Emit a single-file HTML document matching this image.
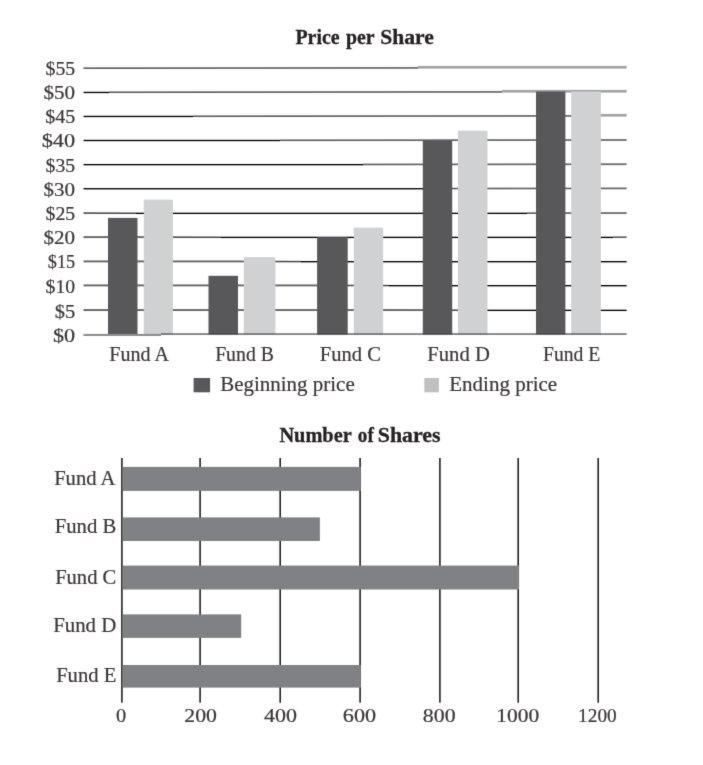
<!DOCTYPE html>
<html lang="en">
<head>
<meta charset="utf-8">
<title>Price per Share / Number of Shares</title>
<style>
html,body{margin:0;padding:0;background:#fff;}
body{width:703px;height:765px;overflow:hidden;}
svg{display:block;}
svg text{font-family:"Liberation Serif", "DejaVu Serif", serif;fill:#3a3738;stroke:#3a3738;stroke-width:0.22px;}
svg text.ttl{fill:#252223;stroke:#252223;stroke-width:0.3px;}
</style>
</head>
<body>
<svg width="703" height="765" viewBox="0 0 703 765">
<defs><filter id="soft" x="0" y="0" width="100%" height="100%" color-interpolation-filters="sRGB"><feConvolveMatrix order="3" kernelMatrix="0.0113 0.0838 0.0113 0.0838 0.6193 0.0838 0.0113 0.0838 0.0113" edgeMode="duplicate" preserveAlpha="false"/></filter></defs>
<g filter="url(#soft)">
<rect width="703" height="765" fill="#ffffff"/>
<g id="grid">
<rect x="83.50" y="67.37" width="12.50" height="1.65" fill="#606060"/>
<rect x="96.00" y="67.34" width="24.00" height="1.66" fill="#616161"/>
<rect x="120.00" y="67.31" width="24.00" height="1.68" fill="#636363"/>
<rect x="144.00" y="67.28" width="24.00" height="1.70" fill="#646464"/>
<rect x="168.00" y="67.25" width="24.00" height="1.72" fill="#666666"/>
<rect x="192.00" y="67.22" width="24.00" height="1.74" fill="#676767"/>
<rect x="216.00" y="67.19" width="24.00" height="1.75" fill="#696969"/>
<rect x="240.00" y="67.16" width="24.00" height="1.77" fill="#6b6b6b"/>
<rect x="264.00" y="67.13" width="24.00" height="1.79" fill="#6c6c6c"/>
<rect x="288.00" y="67.10" width="24.00" height="1.81" fill="#6e6e6e"/>
<rect x="312.00" y="67.07" width="24.00" height="1.83" fill="#6f6f6f"/>
<rect x="336.00" y="67.04" width="24.00" height="1.85" fill="#717171"/>
<rect x="360.00" y="67.01" width="24.00" height="1.86" fill="#727272"/>
<rect x="384.00" y="66.98" width="24.00" height="1.88" fill="#747474"/>
<rect x="408.00" y="66.96" width="10.00" height="1.90" fill="#757575"/>
<rect x="418.00" y="65.90" width="208.60" height="2.70" fill="#a3a3a3"/>
<rect x="83.50" y="91.78" width="25.50" height="1.35" fill="#000000"/>
<rect x="109.00" y="91.44" width="11.00" height="1.60" fill="#5c5c5c"/>
<rect x="120.00" y="91.42" width="24.00" height="1.62" fill="#5d5d5d"/>
<rect x="144.00" y="91.39" width="24.00" height="1.64" fill="#5f5f5f"/>
<rect x="168.00" y="91.36" width="24.00" height="1.65" fill="#606060"/>
<rect x="192.00" y="91.33" width="24.00" height="1.67" fill="#626262"/>
<rect x="216.00" y="91.30" width="24.00" height="1.69" fill="#646464"/>
<rect x="240.00" y="91.27" width="24.00" height="1.71" fill="#656565"/>
<rect x="264.00" y="91.24" width="24.00" height="1.73" fill="#676767"/>
<rect x="288.00" y="91.21" width="24.00" height="1.75" fill="#686868"/>
<rect x="312.00" y="91.18" width="24.00" height="1.76" fill="#6a6a6a"/>
<rect x="336.00" y="91.15" width="24.00" height="1.78" fill="#6b6b6b"/>
<rect x="360.00" y="91.12" width="24.00" height="1.80" fill="#6d6d6d"/>
<rect x="384.00" y="91.08" width="24.00" height="1.82" fill="#6e6e6e"/>
<rect x="408.00" y="91.05" width="24.00" height="1.84" fill="#707070"/>
<rect x="432.00" y="91.02" width="24.00" height="1.86" fill="#727272"/>
<rect x="456.00" y="90.99" width="24.00" height="1.87" fill="#737373"/>
<rect x="480.00" y="90.96" width="22.00" height="1.89" fill="#757575"/>
<rect x="502.00" y="89.90" width="124.60" height="2.70" fill="#a3a3a3"/>
<rect x="83.50" y="115.78" width="109.50" height="1.35" fill="#000000"/>
<rect x="193.00" y="115.44" width="23.00" height="1.61" fill="#5d5d5d"/>
<rect x="216.00" y="115.41" width="24.00" height="1.63" fill="#5e5e5e"/>
<rect x="240.00" y="115.37" width="24.00" height="1.65" fill="#606060"/>
<rect x="264.00" y="115.34" width="24.00" height="1.66" fill="#616161"/>
<rect x="288.00" y="115.31" width="24.00" height="1.68" fill="#636363"/>
<rect x="312.00" y="115.28" width="24.00" height="1.70" fill="#646464"/>
<rect x="336.00" y="115.25" width="24.00" height="1.72" fill="#666666"/>
<rect x="360.00" y="115.22" width="24.00" height="1.74" fill="#676767"/>
<rect x="384.00" y="115.19" width="24.00" height="1.75" fill="#696969"/>
<rect x="408.00" y="115.16" width="24.00" height="1.77" fill="#6b6b6b"/>
<rect x="432.00" y="115.13" width="24.00" height="1.79" fill="#6c6c6c"/>
<rect x="456.00" y="115.10" width="24.00" height="1.81" fill="#6e6e6e"/>
<rect x="480.00" y="115.07" width="24.00" height="1.83" fill="#6f6f6f"/>
<rect x="504.00" y="115.04" width="24.00" height="1.85" fill="#717171"/>
<rect x="528.00" y="115.01" width="24.00" height="1.86" fill="#727272"/>
<rect x="552.00" y="114.98" width="24.00" height="1.88" fill="#747474"/>
<rect x="576.00" y="114.96" width="10.00" height="1.90" fill="#757575"/>
<rect x="586.00" y="113.90" width="40.60" height="2.70" fill="#a3a3a3"/>
<rect x="83.50" y="139.82" width="196.50" height="1.35" fill="#000000"/>
<rect x="280.00" y="139.49" width="8.00" height="1.60" fill="#5c5c5c"/>
<rect x="288.00" y="139.47" width="24.00" height="1.62" fill="#5d5d5d"/>
<rect x="312.00" y="139.44" width="24.00" height="1.63" fill="#5f5f5f"/>
<rect x="336.00" y="139.41" width="24.00" height="1.65" fill="#606060"/>
<rect x="360.00" y="139.38" width="24.00" height="1.67" fill="#626262"/>
<rect x="384.00" y="139.35" width="24.00" height="1.69" fill="#636363"/>
<rect x="408.00" y="139.32" width="24.00" height="1.71" fill="#656565"/>
<rect x="432.00" y="139.29" width="24.00" height="1.73" fill="#666666"/>
<rect x="456.00" y="139.26" width="24.00" height="1.74" fill="#686868"/>
<rect x="480.00" y="139.23" width="24.00" height="1.76" fill="#6a6a6a"/>
<rect x="504.00" y="139.20" width="24.00" height="1.78" fill="#6b6b6b"/>
<rect x="528.00" y="139.17" width="24.00" height="1.80" fill="#6d6d6d"/>
<rect x="552.00" y="139.14" width="24.00" height="1.82" fill="#6e6e6e"/>
<rect x="576.00" y="139.11" width="24.00" height="1.84" fill="#707070"/>
<rect x="600.00" y="139.08" width="24.00" height="1.85" fill="#717171"/>
<rect x="624.00" y="139.06" width="2.60" height="1.86" fill="#727272"/>
<rect x="83.50" y="163.97" width="279.50" height="1.35" fill="#000000"/>
<rect x="363.00" y="163.64" width="21.00" height="1.61" fill="#5c5c5c"/>
<rect x="384.00" y="163.61" width="24.00" height="1.63" fill="#5e5e5e"/>
<rect x="408.00" y="163.58" width="24.00" height="1.64" fill="#5f5f5f"/>
<rect x="432.00" y="163.55" width="24.00" height="1.66" fill="#616161"/>
<rect x="456.00" y="163.52" width="24.00" height="1.68" fill="#636363"/>
<rect x="480.00" y="163.49" width="24.00" height="1.70" fill="#646464"/>
<rect x="504.00" y="163.46" width="24.00" height="1.72" fill="#666666"/>
<rect x="528.00" y="163.42" width="24.00" height="1.74" fill="#676767"/>
<rect x="552.00" y="163.39" width="24.00" height="1.75" fill="#696969"/>
<rect x="576.00" y="163.36" width="24.00" height="1.77" fill="#6a6a6a"/>
<rect x="600.00" y="163.33" width="24.00" height="1.79" fill="#6c6c6c"/>
<rect x="624.00" y="163.32" width="2.60" height="1.80" fill="#6d6d6d"/>
<rect x="83.50" y="188.07" width="363.50" height="1.35" fill="#000000"/>
<rect x="447.00" y="187.74" width="9.00" height="1.60" fill="#5c5c5c"/>
<rect x="456.00" y="187.72" width="24.00" height="1.62" fill="#5d5d5d"/>
<rect x="480.00" y="187.69" width="24.00" height="1.63" fill="#5f5f5f"/>
<rect x="504.00" y="187.66" width="24.00" height="1.65" fill="#606060"/>
<rect x="528.00" y="187.63" width="24.00" height="1.67" fill="#626262"/>
<rect x="552.00" y="187.60" width="24.00" height="1.69" fill="#636363"/>
<rect x="576.00" y="187.57" width="24.00" height="1.71" fill="#656565"/>
<rect x="600.00" y="187.54" width="24.00" height="1.73" fill="#676767"/>
<rect x="624.00" y="187.52" width="2.60" height="1.74" fill="#676767"/>
<rect x="83.50" y="212.25" width="12.50" height="1.73" fill="#585858"/>
<rect x="96.00" y="212.37" width="24.00" height="1.60" fill="#4e4e4e"/>
<rect x="120.00" y="212.50" width="16.00" height="1.46" fill="#424242"/>
<rect x="136.00" y="212.67" width="391.00" height="1.35" fill="#000000"/>
<rect x="527.00" y="212.35" width="1.00" height="1.60" fill="#5c5c5c"/>
<rect x="528.00" y="212.33" width="24.00" height="1.61" fill="#5d5d5d"/>
<rect x="552.00" y="212.30" width="24.00" height="1.63" fill="#5e5e5e"/>
<rect x="576.00" y="212.27" width="24.00" height="1.65" fill="#606060"/>
<rect x="600.00" y="212.24" width="24.00" height="1.66" fill="#616161"/>
<rect x="624.00" y="212.22" width="2.60" height="1.68" fill="#626262"/>
<rect x="83.50" y="236.15" width="12.50" height="1.90" fill="#666666"/>
<rect x="96.00" y="236.15" width="24.00" height="1.90" fill="#666666"/>
<rect x="120.00" y="236.15" width="24.00" height="1.90" fill="#666666"/>
<rect x="144.00" y="236.18" width="24.00" height="1.86" fill="#636363"/>
<rect x="168.00" y="236.34" width="24.00" height="1.69" fill="#555555"/>
<rect x="192.00" y="236.49" width="24.00" height="1.52" fill="#474747"/>
<rect x="216.00" y="236.58" width="5.00" height="1.42" fill="#3f3f3f"/>
<rect x="221.00" y="236.72" width="392.00" height="1.35" fill="#000000"/>
<rect x="613.00" y="236.39" width="11.00" height="1.60" fill="#5c5c5c"/>
<rect x="624.00" y="236.38" width="2.60" height="1.61" fill="#5d5d5d"/>
<rect x="83.50" y="260.45" width="12.50" height="1.90" fill="#666666"/>
<rect x="96.00" y="260.45" width="24.00" height="1.90" fill="#666666"/>
<rect x="120.00" y="260.45" width="24.00" height="1.90" fill="#666666"/>
<rect x="144.00" y="260.45" width="24.00" height="1.90" fill="#666666"/>
<rect x="168.00" y="260.45" width="24.00" height="1.90" fill="#666666"/>
<rect x="192.00" y="260.45" width="24.00" height="1.90" fill="#666666"/>
<rect x="216.00" y="260.45" width="24.00" height="1.90" fill="#666666"/>
<rect x="240.00" y="260.58" width="24.00" height="1.75" fill="#5a5a5a"/>
<rect x="264.00" y="260.74" width="24.00" height="1.58" fill="#4c4c4c"/>
<rect x="288.00" y="260.86" width="13.00" height="1.45" fill="#414141"/>
<rect x="301.00" y="261.02" width="325.60" height="1.35" fill="#000000"/>
<rect x="83.50" y="284.45" width="12.50" height="1.90" fill="#666666"/>
<rect x="96.00" y="284.45" width="24.00" height="1.90" fill="#666666"/>
<rect x="120.00" y="284.45" width="24.00" height="1.90" fill="#666666"/>
<rect x="144.00" y="284.45" width="24.00" height="1.90" fill="#666666"/>
<rect x="168.00" y="284.45" width="24.00" height="1.90" fill="#666666"/>
<rect x="192.00" y="284.45" width="24.00" height="1.90" fill="#666666"/>
<rect x="216.00" y="284.45" width="24.00" height="1.90" fill="#666666"/>
<rect x="240.00" y="284.45" width="24.00" height="1.90" fill="#666666"/>
<rect x="264.00" y="284.45" width="24.00" height="1.90" fill="#666666"/>
<rect x="288.00" y="284.45" width="24.00" height="1.90" fill="#666666"/>
<rect x="312.00" y="284.48" width="24.00" height="1.86" fill="#636363"/>
<rect x="336.00" y="284.64" width="24.00" height="1.69" fill="#555555"/>
<rect x="360.00" y="284.79" width="24.00" height="1.52" fill="#474747"/>
<rect x="384.00" y="284.88" width="5.00" height="1.42" fill="#3f3f3f"/>
<rect x="389.00" y="285.02" width="237.60" height="1.35" fill="#000000"/>
<rect x="83.50" y="309.10" width="12.50" height="1.90" fill="#666666"/>
<rect x="96.00" y="309.10" width="24.00" height="1.90" fill="#666666"/>
<rect x="120.00" y="309.10" width="24.00" height="1.90" fill="#666666"/>
<rect x="144.00" y="309.10" width="24.00" height="1.90" fill="#666666"/>
<rect x="168.00" y="309.10" width="24.00" height="1.90" fill="#666666"/>
<rect x="192.00" y="309.10" width="24.00" height="1.90" fill="#666666"/>
<rect x="216.00" y="309.10" width="24.00" height="1.90" fill="#666666"/>
<rect x="240.00" y="309.10" width="24.00" height="1.90" fill="#666666"/>
<rect x="264.00" y="309.10" width="24.00" height="1.90" fill="#666666"/>
<rect x="288.00" y="309.10" width="24.00" height="1.90" fill="#666666"/>
<rect x="312.00" y="309.10" width="24.00" height="1.90" fill="#666666"/>
<rect x="336.00" y="309.10" width="24.00" height="1.90" fill="#666666"/>
<rect x="360.00" y="309.10" width="24.00" height="1.90" fill="#666666"/>
<rect x="384.00" y="309.10" width="24.00" height="1.90" fill="#666666"/>
<rect x="408.00" y="309.22" width="24.00" height="1.77" fill="#5c5c5c"/>
<rect x="432.00" y="309.37" width="24.00" height="1.60" fill="#4e4e4e"/>
<rect x="456.00" y="309.50" width="16.00" height="1.46" fill="#424242"/>
<rect x="472.00" y="309.68" width="154.60" height="1.35" fill="#000000"/>
</g>
<g id="bars">
<rect x="108.0" y="217.90" width="29.50" height="116.60" fill="#58585a"/>
<rect x="143.8" y="199.60" width="29.10" height="134.90" fill="#d0d1d3"/>
<rect x="208.5" y="275.80" width="29.50" height="58.70" fill="#58585a"/>
<rect x="243.8" y="257.10" width="31.60" height="77.40" fill="#d0d1d3"/>
<rect x="317.1" y="237.10" width="30.60" height="97.40" fill="#58585a"/>
<rect x="353.8" y="227.60" width="29.40" height="106.90" fill="#d0d1d3"/>
<rect x="422.8" y="140.60" width="29.40" height="193.90" fill="#58585a"/>
<rect x="457.9" y="130.70" width="29.60" height="203.80" fill="#d0d1d3"/>
<rect x="536.0" y="91.50" width="29.40" height="243.00" fill="#58585a"/>
<rect x="571.2" y="91.50" width="29.70" height="243.00" fill="#d0d1d3"/>
</g>
<g id="axis0">
<rect x="83.50" y="333.90" width="77.50" height="2.10" fill="#8e8e8e"/>
<rect x="161.00" y="333.45" width="465.60" height="1.20" fill="#404040"/>
</g>
<rect x="193.6" y="378.0" width="16.5" height="14.3" fill="#58585a"/>
<rect x="424.3" y="378.0" width="14.6" height="14.3" fill="#bfc0c2"/>
<g id="vlines">
<rect x="121.10" y="458.0" width="1.6" height="244.7" fill="#222224"/>
<rect x="199.30" y="458.0" width="1.6" height="244.7" fill="#222224"/>
<rect x="279.40" y="458.0" width="1.6" height="244.7" fill="#222224"/>
<rect x="359.30" y="458.0" width="1.6" height="244.7" fill="#222224"/>
<rect x="439.10" y="458.0" width="1.6" height="244.7" fill="#222224"/>
<rect x="517.40" y="458.0" width="1.6" height="244.7" fill="#222224"/>
<rect x="597.40" y="458.0" width="1.6" height="244.7" fill="#222224"/>
</g>
<g id="hbars">
<rect x="122.7" y="466.90" width="238.10" height="24.00" fill="#808184"/>
<rect x="122.7" y="517.40" width="197.20" height="23.60" fill="#808184"/>
<rect x="122.7" y="565.60" width="396.40" height="23.90" fill="#808184"/>
<rect x="122.7" y="614.40" width="118.50" height="23.50" fill="#808184"/>
<rect x="122.7" y="665.00" width="238.10" height="22.60" fill="#808184"/>
</g>
<g id="labels">
<text id="t1a" x="295.46" y="44.20" font-size="20.5" font-weight="bold" class="ttl" textLength="44.16" lengthAdjust="spacingAndGlyphs">Price</text>
<text id="t1b" x="345.88" y="44.20" font-size="20.5" font-weight="bold" class="ttl" textLength="28.58" lengthAdjust="spacingAndGlyphs">per</text>
<text id="t1c" x="380.22" y="44.20" font-size="20.5" font-weight="bold" class="ttl" textLength="53.48" lengthAdjust="spacingAndGlyphs">Share</text>
<text id="t2a" x="279.38" y="442.20" font-size="20.5" font-weight="bold" class="ttl" textLength="72.32" lengthAdjust="spacingAndGlyphs">Number</text>
<text id="t2b" x="357.84" y="442.20" font-size="20.5" font-weight="bold" class="ttl" textLength="15.96" lengthAdjust="spacingAndGlyphs">of</text>
<text id="t2c" x="377.80" y="442.20" font-size="20.5" font-weight="bold" class="ttl" textLength="62.74" lengthAdjust="spacingAndGlyphs">Shares</text>
<text id="xa" x="109.30" y="361.00" font-size="21" textLength="59.58" lengthAdjust="spacingAndGlyphs">Fund A</text>
<text id="xb" x="215.14" y="361.00" font-size="21" textLength="58.76" lengthAdjust="spacingAndGlyphs">Fund B</text>
<text id="xc" x="319.84" y="361.00" font-size="21" textLength="61.18" lengthAdjust="spacingAndGlyphs">Fund C</text>
<text id="xd" x="427.26" y="361.00" font-size="21" textLength="62.64" lengthAdjust="spacingAndGlyphs">Fund D</text>
<text id="xe" x="543.00" y="361.00" font-size="21" textLength="57.28" lengthAdjust="spacingAndGlyphs">Fund E</text>
<text id="l1" x="220.26" y="390.70" font-size="21" textLength="134.44" lengthAdjust="spacingAndGlyphs">Beginning price</text>
<text id="l2" x="449.26" y="390.70" font-size="21" textLength="107.90" lengthAdjust="spacingAndGlyphs">Ending price</text>
<text id="ya" x="54.14" y="485.20" font-size="21" textLength="61.28" lengthAdjust="spacingAndGlyphs">Fund A</text>
<text id="yb" x="54.72" y="533.30" font-size="21" textLength="61.60" lengthAdjust="spacingAndGlyphs">Fund B</text>
<text id="yc" x="55.14" y="583.50" font-size="21" textLength="61.18" lengthAdjust="spacingAndGlyphs">Fund C</text>
<text id="yd" x="53.14" y="632.30" font-size="21" textLength="63.18" lengthAdjust="spacingAndGlyphs">Fund D</text>
<text id="ye" x="56.14" y="682.30" font-size="21" textLength="60.18" lengthAdjust="spacingAndGlyphs">Fund E</text>
<text id="y55" x="45.56" y="75.10" font-size="19.5" textLength="29.60" lengthAdjust="spacingAndGlyphs">$55</text>
<text id="y50" x="43.56" y="98.90" font-size="19.5" textLength="31.60" lengthAdjust="spacingAndGlyphs">$50</text>
<text id="y45" x="45.26" y="123.00" font-size="19.5" textLength="29.90" lengthAdjust="spacingAndGlyphs">$45</text>
<text id="y40" x="41.68" y="147.20" font-size="19.5" textLength="33.48" lengthAdjust="spacingAndGlyphs">$40</text>
<text id="y35" x="45.56" y="171.80" font-size="19.5" textLength="29.60" lengthAdjust="spacingAndGlyphs">$35</text>
<text id="y30" x="43.56" y="196.30" font-size="19.5" textLength="31.60" lengthAdjust="spacingAndGlyphs">$30</text>
<text id="y25" x="45.56" y="219.50" font-size="19.5" textLength="29.60" lengthAdjust="spacingAndGlyphs">$25</text>
<text id="y20" x="43.56" y="243.70" font-size="19.5" textLength="31.60" lengthAdjust="spacingAndGlyphs">$20</text>
<text id="y15" x="47.84" y="268.00" font-size="19.5" textLength="27.32" lengthAdjust="spacingAndGlyphs">$15</text>
<text id="y10" x="45.56" y="293.20" font-size="19.5" textLength="29.60" lengthAdjust="spacingAndGlyphs">$10</text>
<text id="y5" x="54.72" y="318.30" font-size="19.5" textLength="20.44" lengthAdjust="spacingAndGlyphs">$5</text>
<text id="y0" x="52.92" y="342.00" font-size="19.5" textLength="22.24" lengthAdjust="spacingAndGlyphs">$0</text>
<text id="k0" x="116.06" y="722.30" font-size="19.5" textLength="10.22" lengthAdjust="spacingAndGlyphs">0</text>
<text id="k200" x="184.26" y="722.30" font-size="19.5" textLength="32.64" lengthAdjust="spacingAndGlyphs">200</text>
<text id="k400" x="264.00" y="722.30" font-size="19.5" textLength="32.98" lengthAdjust="spacingAndGlyphs">400</text>
<text id="k600" x="342.80" y="722.30" font-size="19.5" textLength="33.28" lengthAdjust="spacingAndGlyphs">600</text>
<text id="k800" x="422.84" y="722.30" font-size="19.5" textLength="32.78" lengthAdjust="spacingAndGlyphs">800</text>
<text id="k1000" x="496.20" y="722.30" font-size="19.5" textLength="42.96" lengthAdjust="spacingAndGlyphs">1000</text>
<text id="k1200" x="578.10" y="722.30" font-size="19.5" textLength="38.60" lengthAdjust="spacingAndGlyphs">1200</text>
</g>
</g>
</svg>
</body>
</html>
